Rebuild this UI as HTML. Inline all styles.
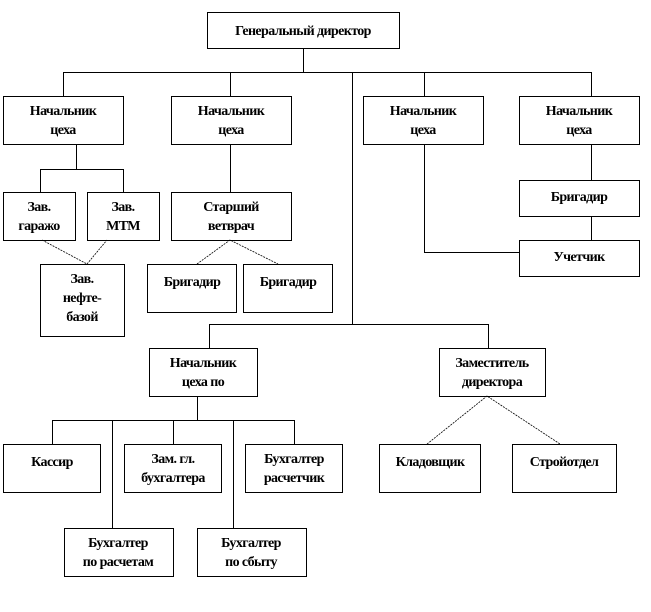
<!DOCTYPE html>
<html><head><meta charset="utf-8"><style>
html,body{margin:0;padding:0;background:#fff;}
svg{display:block;}
text{font-family:"Liberation Serif","Times New Roman",Times,serif;font-weight:bold;font-size:14px;text-anchor:middle;fill:#000;letter-spacing:-0.6px;}
</style></head><body>
<svg width="651" height="612" viewBox="0 0 651 612" xmlns="http://www.w3.org/2000/svg">
<g fill="none" stroke="#000" stroke-width="1" shape-rendering="crispEdges">
<rect x="207.5" y="12.5" width="192" height="36"/>
<rect x="3.5" y="96.5" width="120" height="48"/>
<rect x="171.5" y="96.5" width="120" height="48"/>
<rect x="363.5" y="96.5" width="120" height="48"/>
<rect x="519.5" y="96.5" width="120" height="48"/>
<rect x="3.5" y="192.5" width="72" height="48"/>
<rect x="87.5" y="192.5" width="72" height="48"/>
<rect x="171.5" y="192.5" width="120" height="48"/>
<rect x="40.5" y="264.5" width="84" height="72"/>
<rect x="147.5" y="264.5" width="89" height="48"/>
<rect x="243.5" y="264.5" width="89" height="48"/>
<rect x="519.5" y="180.5" width="120" height="36"/>
<rect x="519.5" y="240.5" width="120" height="36"/>
<rect x="149.5" y="348.5" width="108" height="48"/>
<rect x="439.5" y="348.5" width="106" height="48"/>
<rect x="3.5" y="444.5" width="97" height="48"/>
<rect x="124.5" y="444.5" width="97" height="48"/>
<rect x="245.5" y="444.5" width="97" height="48"/>
<rect x="379.5" y="444.5" width="101" height="48"/>
<rect x="512.5" y="444.5" width="104" height="48"/>
<rect x="64.5" y="528.5" width="109" height="48"/>
<rect x="197.5" y="528.5" width="109" height="48"/>
<path d="M303.5 48V72.5M63.5 72.5H591.5M63.5 72V96M230.5 72V96M424.5 72V96M591.5 72V96"/>
<path d="M76.5 144V169.5M40.5 169.5H123.5M40.5 169V192M123.5 169V192"/>
<path d="M230.5 144V192"/>
<path d="M591.5 144V180M591.5 216V240M424.5 144V252.5H519"/>
<path d="M352.5 72V324.5M209.5 324.5H488.5M209.5 324V348M488.5 324V348"/>
<path d="M197.5 396V420.5M52.5 420.5H294.5M52.5 420V444M173.5 420V444M294.5 420V444M112.5 420V528M233.5 420V528"/>
</g>
<g fill="none" stroke="#000" stroke-width="0.8" stroke-dasharray="2,1">
<path d="M42 240L87 264L107 240"/>
<path d="M197 264L230 240L278 264"/>
<path d="M427 444L487 396L560 444"/>
</g>
<text x="303" y="35">Генеральный директор</text>
<text x="63" y="115">Начальник</text><text x="63" y="134">цеха</text>
<text x="231" y="115">Начальник</text><text x="231" y="134">цеха</text>
<text x="423" y="115">Начальник</text><text x="423" y="134">цеха</text>
<text x="579" y="115">Начальник</text><text x="579" y="134">цеха</text>
<text x="39" y="211">Зав.</text><text x="39" y="230">гаражо</text>
<text x="123" y="211">Зав.</text><text x="123" y="230">МТМ</text>
<text x="231" y="211">Старший</text><text x="231" y="230">ветврач</text>
<text x="82" y="283">Зав.</text><text x="82" y="302">нефте-</text><text x="82" y="321">базой</text>
<text x="192" y="286">Бригадир</text>
<text x="288" y="286">Бригадир</text>
<text x="579" y="201">Бригадир</text>
<text x="579" y="261">Учетчик</text>
<text x="203" y="367">Начальник</text><text x="203" y="386">цеха по</text>
<text x="492" y="367">Заместитель</text><text x="492" y="386">директора</text>
<text x="52" y="466">Кассир</text>
<text x="173" y="463">Зам. гл.</text><text x="173" y="482">бухгалтера</text>
<text x="294" y="463">Бухгалтер</text><text x="294" y="482">расчетчик</text>
<text x="430" y="466">Кладовщик</text>
<text x="564" y="466">Стройотдел</text>
<text x="118" y="547">Бухгалтер</text><text x="118" y="566">по расчетам</text>
<text x="251" y="547">Бухгалтер</text><text x="251" y="566">по сбыту</text>
</svg>
</body></html>
